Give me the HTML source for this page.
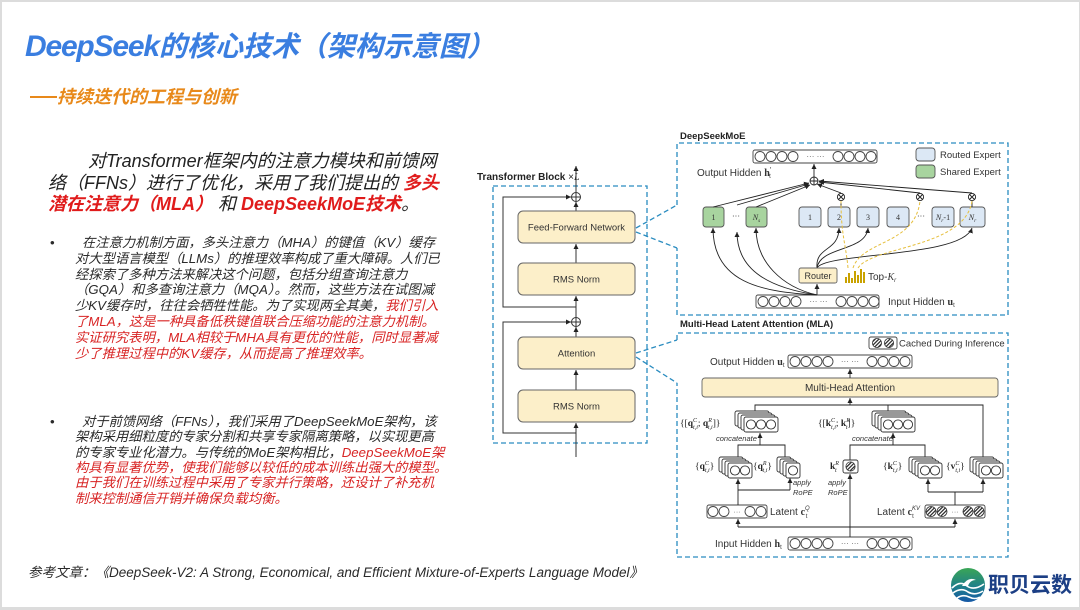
<!DOCTYPE html>
<html><head><meta charset="utf-8">
<style>
html,body{margin:0;padding:0;}
body{width:1080px;height:610px;background:#dcdcdc;position:relative;overflow:hidden;font-family:"Liberation Sans","Noto Sans CJK SC",sans-serif;}
#pg{position:absolute;left:2px;top:2px;width:1077px;height:605px;background:#fff;}
.a{position:absolute;white-space:nowrap;}
.p{font-size:18px;line-height:22px;font-style:italic;color:#222;}
.rb{color:#e01b1b;font-weight:bold;}
.b{font-size:13.3px;line-height:16px;font-style:italic;color:#2a2a2a;}
.r{color:#d82424;}
</style></head>
<body>
<div id="pg"></div>

<div class="a" style="left:25px;top:27px;font-size:28px;line-height:40px;font-weight:bold;font-style:italic;color:#3a7ee0;"><span style="letter-spacing:-1.2px;font-size:30px">DeepSeek</span>的核心技术（架构示意图）</div>

<div class="a" style="left:30px;top:96px;width:27px;height:1.5px;background:#e8891a;"></div>
<div class="a" style="left:57px;top:86px;font-size:18px;line-height:22px;font-weight:bold;font-style:italic;color:#e8891a;">持续迭代的工程与创新</div>

<div class="a p" style="left:88px;top:150px;">对Transformer框架内的注意力模块和前馈网</div>
<div class="a p" style="left:48px;top:172px;">络（FFNs）进行了优化，采用了我们提出的 <span class="rb">多头</span></div>
<div class="a p" style="left:48px;top:193px;"><span class="rb">潜在注意力（MLA）</span> 和 <span class="rb">DeepSeekMoE技术</span>。</div>

<div class="a b" style="left:50px;top:235px;font-style:normal;">•</div>
<div class="a b" style="left:82px;top:235px;">在注意力机制方面，多头注意力（MHA）的键值（KV）缓存</div>
<div class="a b" style="left:75px;top:251px;">对大型语言模型（LLMs）的推理效率构成了重大障碍。人们已</div>
<div class="a b" style="left:75px;top:267px;">经探索了多种方法来解决这个问题，包括分组查询注意力</div>
<div class="a b" style="left:75px;top:282px;">（GQA）和多查询注意力（MQA）。然而，这些方法在试图减</div>
<div class="a b" style="left:75px;top:298px;">少KV缓存时，往往会牺牲性能。为了实现两全其美，<span class="r">我们引入</span></div>
<div class="a b r" style="left:75px;top:314px;">了MLA，这是一种具备低秩键值联合压缩功能的注意力机制。</div>
<div class="a b r" style="left:75px;top:330px;">实证研究表明，MLA相较于MHA具有更优的性能，同时显著减</div>
<div class="a b r" style="left:75px;top:346px;">少了推理过程中的KV缓存，从而提高了推理效率。</div>

<div class="a b" style="left:50px;top:414px;font-style:normal;">•</div>
<div class="a b" style="left:82px;top:414px;">对于前馈网络（FFNs），我们采用了DeepSeekMoE架构，该</div>
<div class="a b" style="left:75px;top:429px;">架构采用细粒度的专家分割和共享专家隔离策略，以实现更高</div>
<div class="a b" style="left:75px;top:445px;">的专家专业化潜力。与传统的MoE架构相比，<span class="r">DeepSeekMoE架</span></div>
<div class="a b r" style="left:75px;top:460px;">构具有显著优势，使我们能够以较低的成本训练出强大的模型。</div>
<div class="a b r" style="left:75px;top:475px;">由于我们在训练过程中采用了专家并行策略，还设计了补充机</div>
<div class="a b r" style="left:75px;top:491px;">制来控制通信开销并确保负载均衡。</div>

<div class="a" style="left:28px;top:564px;font-size:13.5px;line-height:18px;font-style:italic;color:#2a2a2a;">参考文章：《DeepSeek-V2: A Strong, Economical, and Efficient Mixture-of-Experts Language Model》</div>

<div class="a" style="left:988px;top:570px;font-size:21px;line-height:28px;font-weight:bold;color:#1c3f85;font-family:'Noto Sans CJK SC',sans-serif;">职贝云数</div>

<svg class="a" style="left:0;top:0" width="1080" height="610" viewBox="0 0 1080 610" font-family="Liberation Sans, DejaVu Sans, sans-serif">
<defs>
<marker id="ar" markerWidth="6" markerHeight="6" refX="5" refY="3" orient="auto" markerUnits="userSpaceOnUse"><path d="M0,0.5 L5,3 L0,5.5z" fill="#222"/></marker>
<pattern id="ht" width="2.6" height="2.6" patternUnits="userSpaceOnUse" patternTransform="rotate(45)"><rect width="1.3" height="2.6" fill="#333"/></pattern>
<linearGradient id="lg" x1="0" y1="0" x2="0" y2="1"><stop offset="0" stop-color="#3aa656"/><stop offset="0.55" stop-color="#1f7f8a"/><stop offset="1" stop-color="#1558a6"/></linearGradient>
</defs>

<!-- Transformer block -->
<text x="477" y="180" font-size="10" font-weight="bold" fill="#222">Transformer Block <tspan font-weight="normal">×</tspan><tspan font-style="italic" font-family="Liberation Serif" font-weight="normal">L</tspan></text>
<rect x="493" y="186" width="154" height="257" fill="none" stroke="#2a8cc0" stroke-width="1.3" stroke-dasharray="5 3"/>
<g stroke="#333" stroke-width="1" fill="none">
<line x1="576" y1="457" x2="576" y2="423" marker-end="url(#ar)"/>
<line x1="576" y1="390" x2="576" y2="370" marker-end="url(#ar)"/>
<line x1="576" y1="337" x2="576" y2="327" marker-end="url(#ar)"/>
<line x1="576" y1="318" x2="576" y2="296" marker-end="url(#ar)"/>
<line x1="576" y1="263" x2="576" y2="244" marker-end="url(#ar)"/>
<line x1="576" y1="211" x2="576" y2="202" marker-end="url(#ar)"/>
<line x1="576" y1="192" x2="576" y2="166" marker-end="url(#ar)"/>
<polyline points="576,433 503,433 503,322 571,322" marker-end="url(#ar)"/>
<polyline points="576,307 503,307 503,197 571,197" marker-end="url(#ar)"/>
</g>
<g stroke="#333" stroke-width="1" fill="#fff">
<circle cx="576" cy="197" r="4.5"/><path d="M571.5,197h9M576,192.5v9"/>
<circle cx="576" cy="322" r="4.5"/><path d="M571.5,322h9M576,317.5v9"/>
</g>
<g fill="#fcefc9" stroke="#666" stroke-width="1">
<rect x="518" y="211" width="117" height="32" rx="5"/>
<rect x="518" y="263" width="117" height="32" rx="5"/>
<rect x="518" y="337" width="117" height="32" rx="5"/>
<rect x="518" y="390" width="117" height="32" rx="5"/>
</g>
<g font-size="9.5" fill="#333" text-anchor="middle">
<text x="576.5" y="230.5">Feed-Forward Network</text>
<text x="576.5" y="282.5">RMS Norm</text>
<text x="576.5" y="356.5">Attention</text>
<text x="576.5" y="409.5">RMS Norm</text>
</g>

<!-- dashed callouts -->
<g fill="none" stroke="#2a8cc0" stroke-width="1.3" stroke-dasharray="5 3">
<path d="M677,205 L677,143 L1008,143 L1008,315 L677,315 L677,248"/>
<path d="M636,228 L677,205 M636,232 L677,248"/>
<path d="M677,340 L677,333 L1008,333 L1008,557 L677,557 L677,383"/>
<path d="M636,353 L677,340 M636,357 L677,383"/>
</g>
<text x="680" y="139" font-size="9.5" font-weight="bold" fill="#222">DeepSeekMoE</text>
<text x="680" y="327" font-size="9.5" font-weight="bold" fill="#222">Multi-Head Latent Attention (MLA)</text>

<!-- MoE -->
<g fill="#fff" stroke="#444" stroke-width="0.9">
<rect x="753" y="150" width="124" height="13" rx="2"/>
<circle cx="760" cy="156.5" r="5"/><circle cx="771" cy="156.5" r="5"/><circle cx="782" cy="156.5" r="5"/><circle cx="793" cy="156.5" r="5"/>
<circle cx="838" cy="156.5" r="5"/><circle cx="849" cy="156.5" r="5"/><circle cx="860" cy="156.5" r="5"/><circle cx="871" cy="156.5" r="5"/>
<rect x="756" y="295" width="123" height="13" rx="2"/>
<circle cx="763" cy="301.5" r="5"/><circle cx="774" cy="301.5" r="5"/><circle cx="785" cy="301.5" r="5"/><circle cx="796" cy="301.5" r="5"/>
<circle cx="841" cy="301.5" r="5"/><circle cx="852" cy="301.5" r="5"/><circle cx="863" cy="301.5" r="5"/><circle cx="874" cy="301.5" r="5"/>
</g>
<text x="815.5" y="159" font-size="8" fill="#666" text-anchor="middle">··· ···</text>
<text x="818.5" y="304" font-size="8" fill="#666" text-anchor="middle">··· ···</text>
<text x="697" y="176" font-size="10" fill="#333">Output Hidden <tspan font-weight="bold" font-family="Liberation Serif">h</tspan><tspan font-size="7" dy="-4">′</tspan><tspan font-size="6" dx="-2" dy="6">t</tspan></text>
<text x="888" y="305" font-size="10" fill="#333">Input Hidden <tspan font-weight="bold" font-family="Liberation Serif">u</tspan><tspan font-size="6" dy="2">t</tspan></text>

<!-- legend -->
<rect x="916" y="148" width="19" height="13" rx="3" fill="#dce8f5" stroke="#555" stroke-width="0.9"/>
<rect x="916" y="165" width="19" height="13" rx="3" fill="#a8d49f" stroke="#555" stroke-width="0.9"/>
<text x="940" y="158" font-size="9.5" fill="#333">Routed Expert</text>
<text x="940" y="175" font-size="9.5" fill="#333">Shared Expert</text>

<!-- experts -->
<g stroke="#555" stroke-width="0.9">
<rect x="703" y="207" width="21" height="20" rx="3" fill="#a8d49f"/>
<rect x="746" y="207" width="21" height="20" rx="3" fill="#a8d49f"/>
<rect x="799" y="207" width="22" height="20" rx="3" fill="#dce8f5"/>
<rect x="828" y="207" width="22" height="20" rx="3" fill="#dce8f5"/>
<rect x="857" y="207" width="22" height="20" rx="3" fill="#dce8f5"/>
<rect x="887" y="207" width="22" height="20" rx="3" fill="#dce8f5"/>
<rect x="932" y="207" width="22" height="20" rx="3" fill="#dce8f5"/>
<rect x="960" y="207" width="25" height="20" rx="3" fill="#dce8f5"/>
</g>
<g font-size="8" fill="#333" text-anchor="middle" font-family="Liberation Serif">
<text x="713.5" y="220">1</text>
<text x="736" y="219">···</text>
<text x="756.5" y="220" font-style="italic">N<tspan font-size="5.5" dy="2">s</tspan></text>
<text x="810" y="220">1</text>
<text x="839" y="220">2</text>
<text x="868" y="220">3</text>
<text x="898" y="220">4</text>
<text x="921" y="219">···</text>
<text x="943" y="220"><tspan font-style="italic">N</tspan><tspan font-size="5.5" dy="2" font-style="italic">r</tspan><tspan dy="-2">-1</tspan></text>
<text x="972.5" y="220" font-style="italic">N<tspan font-size="5.5" dy="2">r</tspan></text>
</g>

<!-- lines to sum -->
<g stroke="#222" stroke-width="0.9" fill="none">
<line x1="713" y1="207" x2="809" y2="183" marker-end="url(#ar)"/>
<line x1="737" y1="205" x2="809" y2="184" marker-end="url(#ar)"/>
<line x1="756" y1="207" x2="810" y2="185" marker-end="url(#ar)"/>
<line x1="841" y1="193" x2="817" y2="184" marker-end="url(#ar)"/>
<line x1="920" y1="193" x2="819" y2="182" marker-end="url(#ar)"/>
<line x1="972" y1="193" x2="819" y2="181" marker-end="url(#ar)"/>
<line x1="814" y1="177" x2="814" y2="164" marker-end="url(#ar)"/>
<line x1="841" y1="207" x2="841" y2="201"/>
<line x1="972" y1="207" x2="972" y2="201"/>
<path d="M817,295 C760,292 713,282 713,228" marker-end="url(#ar)"/>
<path d="M817,295 C772,288 737,272 737,232" marker-end="url(#ar)"/>
<path d="M817,295 C782,287 756,262 756,228" marker-end="url(#ar)"/>
<line x1="817" y1="295" x2="817" y2="284" marker-end="url(#ar)"/>
<path d="M817,268 C815,246 839,252 839,228" marker-end="url(#ar)"/>
<path d="M817,268 C820,246 866,252 868,228" marker-end="url(#ar)"/>
<path d="M817,268 C825,252 962,258 972,228" marker-end="url(#ar)"/>
</g>
<g stroke="#222" stroke-width="0.9" fill="#fff">
<circle cx="814" cy="181" r="4"/><path d="M810,181h8M814,177v8"/>
<circle cx="841" cy="197" r="3.6"/><path d="M838.5,194.5l5,5M843.5,194.5l-5,5"/>
<circle cx="920" cy="197" r="3.6"/><path d="M917.5,194.5l5,5M922.5,194.5l-5,5"/>
<circle cx="972" cy="197" r="3.6"/><path d="M969.5,194.5l5,5M974.5,194.5l-5,5"/>
</g>
<g fill="none" stroke="#e6bf3c" stroke-width="1" stroke-dasharray="3 2">
<path d="M848,268 C846,245 841,235 841,201"/>
<path d="M853,268 C862,240 915,245 920,201"/>
<path d="M858,268 C872,246 965,248 972,201"/>
</g>
<rect x="799" y="268" width="38" height="15" rx="2" fill="#fcefc9" stroke="#666" stroke-width="0.9"/>
<text x="818" y="279" font-size="9" fill="#333" text-anchor="middle">Router</text>
<g fill="#c9a200">
<rect x="845" y="277" width="2" height="6"/><rect x="848" y="273" width="2" height="10"/><rect x="851" y="278" width="2" height="5"/><rect x="854" y="271" width="2" height="12"/><rect x="857" y="275" width="2" height="8"/><rect x="860" y="269" width="2" height="14"/><rect x="863" y="272" width="2" height="11"/>
</g>
<text x="868" y="280" font-size="10" fill="#333">Top-<tspan font-style="italic" font-family="Liberation Serif">K</tspan><tspan font-size="6" dy="2" font-style="italic">r</tspan></text>

<!-- MLA -->
<rect x="869" y="337" width="28" height="12" rx="2" fill="#fff" stroke="#444" stroke-width="0.9"/>
<circle cx="877" cy="343" r="4.6" fill="url(#ht)" stroke="#333" stroke-width="0.8"/>
<circle cx="889" cy="343" r="4.6" fill="url(#ht)" stroke="#333" stroke-width="0.8"/>
<text x="899" y="346.5" font-size="9.5" fill="#333">Cached During Inference</text>

<text x="710" y="365" font-size="10" fill="#333">Output Hidden <tspan font-weight="bold" font-family="Liberation Serif">u</tspan><tspan font-size="6" dy="2">t</tspan></text>
<text x="715" y="547" font-size="10" fill="#333">Input Hidden <tspan font-weight="bold" font-family="Liberation Serif">h</tspan><tspan font-size="6" dy="2">t</tspan></text>
<g fill="#fff" stroke="#444" stroke-width="0.9">
<rect x="788" y="355" width="124" height="13" rx="2"/>
<circle cx="795" cy="361.5" r="5"/><circle cx="806" cy="361.5" r="5"/><circle cx="817" cy="361.5" r="5"/><circle cx="828" cy="361.5" r="5"/>
<circle cx="872" cy="361.5" r="5"/><circle cx="883" cy="361.5" r="5"/><circle cx="894" cy="361.5" r="5"/><circle cx="905" cy="361.5" r="5"/>
<rect x="788" y="537" width="124" height="13" rx="2"/>
<circle cx="795" cy="543.5" r="5"/><circle cx="806" cy="543.5" r="5"/><circle cx="817" cy="543.5" r="5"/><circle cx="828" cy="543.5" r="5"/>
<circle cx="872" cy="543.5" r="5"/><circle cx="883" cy="543.5" r="5"/><circle cx="894" cy="543.5" r="5"/><circle cx="905" cy="543.5" r="5"/>
<rect x="707" y="505" width="60" height="13" rx="2"/>
<circle cx="713" cy="511.5" r="5"/><circle cx="724" cy="511.5" r="5"/><circle cx="750" cy="511.5" r="5"/><circle cx="761" cy="511.5" r="5"/>
<rect x="925" y="505" width="60" height="13" rx="2"/>
</g>
<g fill="url(#ht)" stroke="#333" stroke-width="0.8">
<circle cx="931" cy="511.5" r="5"/><circle cx="942" cy="511.5" r="5"/><circle cx="968" cy="511.5" r="5"/><circle cx="979" cy="511.5" r="5"/>
</g>
<text x="850" y="364" font-size="8" fill="#666" text-anchor="middle">··· ···</text>
<text x="850" y="546" font-size="8" fill="#666" text-anchor="middle">··· ···</text>
<text x="737" y="514" font-size="7" fill="#666" text-anchor="middle">···</text>
<text x="955" y="514" font-size="7" fill="#666" text-anchor="middle">···</text>
<text x="770" y="515" font-size="10" fill="#333">Latent <tspan font-weight="bold" font-family="Liberation Serif">c</tspan><tspan font-size="6" dy="-5" font-style="italic">Q</tspan><tspan font-size="6" dx="-4" dy="8">t</tspan></text>
<text x="877" y="515" font-size="10" fill="#333">Latent <tspan font-weight="bold" font-family="Liberation Serif">c</tspan><tspan font-size="6" dy="-5" font-style="italic">KV</tspan><tspan font-size="6" dx="-8" dy="8">t</tspan></text>

<rect x="702" y="378" width="296" height="19" rx="3" fill="#fcefc9" stroke="#666" stroke-width="0.9"/>
<text x="850" y="391" font-size="10" fill="#333" text-anchor="middle">Multi-Head Attention</text>

<g stroke="#222" stroke-width="0.9" fill="none">
<line x1="850" y1="378" x2="850" y2="369" marker-end="url(#ar)"/>
<line x1="850" y1="405" x2="850" y2="398" marker-end="url(#ar)"/>
<polyline points="755,411 755,405 983,405 983,457"/>
<line x1="888" y1="405" x2="888" y2="411"/>
<line x1="760" y1="445" x2="760" y2="433" marker-end="url(#ar)"/>
<polyline points="738,457 738,445 785,445 785,457"/>
<line x1="738" y1="505" x2="738" y2="479" marker-end="url(#ar)"/>
<line x1="738" y1="490" x2="790" y2="490"/>
<line x1="790" y1="490" x2="790" y2="478" marker-end="url(#ar)"/>
<line x1="850" y1="537" x2="850" y2="527"/>
<line x1="738" y1="527" x2="955" y2="527"/>
<line x1="738" y1="527" x2="738" y2="519" marker-end="url(#ar)"/>
<line x1="955" y1="527" x2="955" y2="519" marker-end="url(#ar)"/>
<line x1="850" y1="527" x2="850" y2="474" marker-end="url(#ar)"/>
<polyline points="850,460 850,445 925,445 925,457"/>
<line x1="893" y1="445" x2="893" y2="433" marker-end="url(#ar)"/>
<line x1="955" y1="505" x2="955" y2="492"/>
<line x1="928" y1="492" x2="983" y2="492"/>
<line x1="928" y1="492" x2="928" y2="479" marker-end="url(#ar)"/>
<line x1="983" y1="492" x2="983" y2="479" marker-end="url(#ar)"/>
</g>

<g fill="#fff" stroke="#333" stroke-width="0.9">
<rect x="735" y="411" width="34" height="15" rx="2"/><rect x="738" y="413" width="34" height="15" rx="2"/><rect x="741" y="415" width="34" height="15" rx="2"/><rect x="744" y="417" width="34" height="15" rx="2"/>
<circle cx="751" cy="424.5" r="4.6"/><circle cx="761" cy="424.5" r="4.6"/><circle cx="771" cy="424.5" r="4.6"/>
<rect x="872" y="411" width="34" height="15" rx="2"/><rect x="875" y="413" width="34" height="15" rx="2"/><rect x="878" y="415" width="34" height="15" rx="2"/><rect x="881" y="417" width="34" height="15" rx="2"/>
<circle cx="888" cy="424.5" r="4.6"/><circle cx="898" cy="424.5" r="4.6"/><circle cx="908" cy="424.5" r="4.6"/>
<rect x="719" y="457" width="24" height="15" rx="2"/><rect x="722" y="459" width="24" height="15" rx="2"/><rect x="725" y="461" width="24" height="15" rx="2"/><rect x="728" y="463" width="24" height="15" rx="2"/>
<circle cx="735" cy="470.5" r="4.6"/><circle cx="745" cy="470.5" r="4.6"/>
<rect x="777" y="457" width="14" height="15" rx="2"/><rect x="780" y="459" width="14" height="15" rx="2"/><rect x="783" y="461" width="14" height="15" rx="2"/><rect x="786" y="463" width="14" height="15" rx="2"/>
<circle cx="793" cy="470.5" r="4.6"/>
<rect x="909" y="457" width="24" height="15" rx="2"/><rect x="912" y="459" width="24" height="15" rx="2"/><rect x="915" y="461" width="24" height="15" rx="2"/><rect x="918" y="463" width="24" height="15" rx="2"/>
<circle cx="925" cy="470.5" r="4.6"/><circle cx="935" cy="470.5" r="4.6"/>
<rect x="970" y="457" width="24" height="15" rx="2"/><rect x="973" y="459" width="24" height="15" rx="2"/><rect x="976" y="461" width="24" height="15" rx="2"/><rect x="979" y="463" width="24" height="15" rx="2"/>
<circle cx="986" cy="470.5" r="4.6"/><circle cx="996" cy="470.5" r="4.6"/>
<rect x="843" y="460" width="15" height="13" rx="2"/>
</g>
<circle cx="850.5" cy="466.5" r="4.6" fill="url(#ht)" stroke="#333" stroke-width="0.8"/>

<g font-size="9.5" fill="#222" font-family="Liberation Serif">
<text x="680" y="426">{[<tspan font-weight="bold">q</tspan><tspan font-size="6" dy="-4" font-style="italic">C</tspan><tspan font-size="6" dx="-4" dy="7" font-style="italic">t,i</tspan><tspan dy="-3">; </tspan><tspan font-weight="bold">q</tspan><tspan font-size="6" dy="-4" font-style="italic">R</tspan><tspan font-size="6" dx="-4" dy="7" font-style="italic">t,i</tspan><tspan dy="-3">]}</tspan></text>
<text x="818" y="426">{[<tspan font-weight="bold">k</tspan><tspan font-size="6" dy="-4" font-style="italic">C</tspan><tspan font-size="6" dx="-4" dy="7" font-style="italic">t,i</tspan><tspan dy="-3">; </tspan><tspan font-weight="bold">k</tspan><tspan font-size="6" dy="-4" font-style="italic">R</tspan><tspan font-size="6" dx="-4" dy="7" font-style="italic">t</tspan><tspan dy="-3">]}</tspan></text>
<text x="695" y="469">{<tspan font-weight="bold">q</tspan><tspan font-size="6" dy="-4" font-style="italic">C</tspan><tspan font-size="6" dx="-4" dy="7" font-style="italic">t,i</tspan><tspan dy="-3">}</tspan></text>
<text x="753" y="469">{<tspan font-weight="bold">q</tspan><tspan font-size="6" dy="-4" font-style="italic">R</tspan><tspan font-size="6" dx="-4" dy="7" font-style="italic">t,i</tspan><tspan dy="-3">}</tspan></text>
<text x="830" y="469"><tspan font-weight="bold">k</tspan><tspan font-size="6" dy="-4" font-style="italic">R</tspan><tspan font-size="6" dx="-4" dy="7" font-style="italic">t</tspan></text>
<text x="883" y="469">{<tspan font-weight="bold">k</tspan><tspan font-size="6" dy="-4" font-style="italic">C</tspan><tspan font-size="6" dx="-4" dy="7" font-style="italic">t,i</tspan><tspan dy="-3">}</tspan></text>
<text x="946" y="469">{<tspan font-weight="bold">v</tspan><tspan font-size="6" dy="-4" font-style="italic">C</tspan><tspan font-size="6" dx="-4" dy="7" font-style="italic">t,i</tspan><tspan dy="-3">}</tspan></text>
</g>
<g font-size="7.5" fill="#333" font-style="italic">
<text x="716" y="441">concatenate</text>
<text x="852" y="441">concatenate</text>
<text x="793" y="485">apply</text><text x="793" y="495">RoPE</text>
<text x="828" y="485">apply</text><text x="828" y="495">RoPE</text>
</g>

<!-- logo -->
<circle cx="968" cy="585" r="17" fill="url(#lg)"/>
<g fill="none" stroke="#fff" stroke-width="1.6">
<path d="M952,588 Q960,580 967,586 Q974,591 984,584"/>
<path d="M953,593 Q961,587 968,592 Q975,596 983,591"/>
<path d="M957,598 Q963,594 969,597 Q975,600 980,597"/>
</g>
<path d="M962,586 Q968,576 976,580 Q970,580 968,586z" fill="#fff"/>
</svg>
</body></html>
